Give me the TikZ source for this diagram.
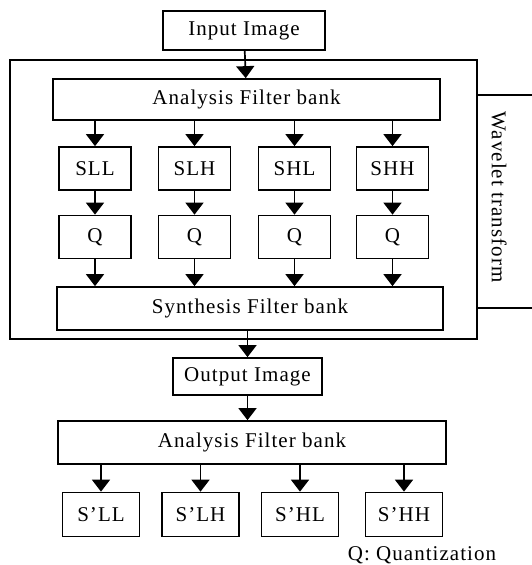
\documentclass[tikz,border=0pt]{standalone}
\usepackage{fontspec}
\setmainfont[LetterSpace=5]{Liberation Serif}
\usetikzlibrary{arrows.meta}

\begin{document}
\begin{tikzpicture}[x=1pt,y=-1pt,line width=1.7pt,
    blk/.style={draw,inner sep=0pt,font=\fontsize{21}{24}\selectfont},
    sub/.style={blk,minimum width=72pt,minimum height=43pt},
    subb/.style={blk,minimum width=77pt,minimum height=44pt},
    arr/.style={-{Triangle[length=12pt,width=18pt]}}]

\useasboundingbox (0,0) rectangle (532,565);

	% wavelet transform part
	\node[draw,minimum width=467pt,minimum height=279pt] (wt) at (243.5,199.5) {};
	\node[blk,minimum width=162pt,minimum height=39pt] (input) at (244,30.5) {Input Image};
	\node[blk,minimum width=387pt,minimum height=41pt] (anaA) at (246.5,99.5) {Analysis Filter bank};

	\node[sub] (sll) at (95,168.5) {SLL};
	\node[sub] (slh) at (194.5,168.5) {SLH};
	\node[sub] (shl) at (294.5,168.5) {SHL};
	\node[sub] (shh) at (392.5,168.5) {SHH};

	\node[sub] (qa) at (95,237) {Q};
	\node[sub] (qb) at (194.5,237) {Q};
	\node[sub] (qc) at (294.5,237) {Q};
	\node[sub] (qd) at (392.5,237) {Q};

	\node[blk,minimum width=386pt,minimum height=43pt] (syn) at (250,308.5) {Synthesis Filter bank};

	% label on the right
	\coordinate (brTop) at (532,95);
	\coordinate (brBot) at (532,308);
	\draw (wt.east |- brTop) -- (brTop);
	\draw (wt.east |- brBot) -- (brBot);
	\node[font=\fontsize{21}{24}\selectfont,rotate=-90] (wtlab) at (499,197) {Wavelet transform};

	% second analysis
	\node[blk,minimum width=149pt,minimum height=37pt] (output) at (247.5,376.5) {Output Image};
	\node[blk,minimum width=388pt,minimum height=43pt] (anaB) at (252,442.5) {Analysis Filter bank};

	\node[subb] (pll) at (101,514.5) {S'LL};
	\node[subb] (plh) at (200.5,514.5) {S'LH};
	\node[subb] (phl) at (300,514.5) {S'HL};
	\node[subb] (phh) at (404,514.5) {S'HH};

	\node[font=\fontsize{21}{24}\selectfont] (qnote) at (422,555) {Q: Quantization};

	% arrows
	\draw[arr] (input) -- (anaA);
	\draw[arr] (anaA.south -| sll) -- (sll);
	\draw[arr] (anaA.south -| slh) -- (slh);
	\draw[arr] (anaA.south -| shl) -- (shl);
	\draw[arr] (anaA.south -| shh) -- (shh);
	\draw[arr] (sll) -- (qa);
	\draw[arr] (slh) -- (qb);
	\draw[arr] (shl) -- (qc);
	\draw[arr] (shh) -- (qd);
	\draw[arr] (qa) -- (syn.north -| qa);
	\draw[arr] (qb) -- (syn.north -| qb);
	\draw[arr] (qc) -- (syn.north -| qc);
	\draw[arr] (qd) -- (syn.north -| qd);
	\draw[arr] (syn.south -| output) -- (output);
	\draw[arr] (output) -- (anaB.north -| output);
	\draw[arr] (anaB.south -| pll) -- (pll);
	\draw[arr] (anaB.south -| plh) -- (plh);
	\draw[arr] (anaB.south -| phl) -- (phl);
	\draw[arr] (anaB.south -| phh) -- (phh);

\end{tikzpicture}
\end{document}
